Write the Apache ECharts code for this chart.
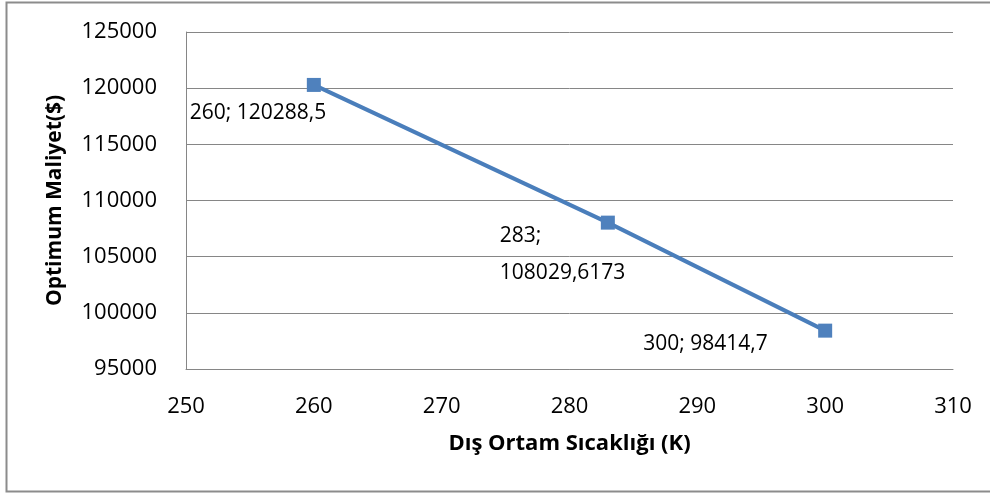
<!DOCTYPE html>
<html><head><meta charset="utf-8">
<script src="https://cdn.jsdelivr.net/npm/echarts@6/dist/echarts.min.js"></script>
<style>html,body{margin:0;padding:0;background:#fff}#c{width:990px;height:494px}</style>
</head><body><div id="c"></div>
<script>
const xValues = [260, 283, 300];
const yValues = [120288.5, 108029.6173, 98414.7];
const pointLabels = ["260; 120288,5", "283;\n108029,6173", "300; 98414,7"];
const xTicks = [250, 260, 270, 280, 290, 300, 310];
const yTicks = [95000, 100000, 105000, 110000, 115000, 120000, 125000];
const xTitle = "Dış Ortam Sıcaklığı (K)";
const yTitle = "Optimum Maliyet($)";

const FONT = "Open Sans";
const labelPos = [[-117, 35], [-101, 39], [-175, 20]];
const chart = echarts.init(document.getElementById('c'), null, {renderer: 'canvas'});
chart.setOption({
  animation: false,
  graphic: [{type: 'rect', shape: {x: 6.5, y: 2.5, width: 1000, height: 489}, style: {fill: 'none', stroke: '#8c8c8c', lineWidth: 2}, silent: true}],
  grid: {left: 186, top: 32, right: 990 - 953, bottom: 494 - 369, containLabel: false},
  xAxis: {
    type: 'value', min: xTicks[0], max: xTicks[xTicks.length - 1], interval: 10,
    name: xTitle, nameLocation: 'middle', nameGap: 64,
    nameTextStyle: {fontFamily: FONT, fontWeight: 'bold', fontSize: 22, color: '#000'},
    axisLine: {show: true, lineStyle: {color: '#868686', width: 1}},
    axisTick: {show: false},
    splitLine: {show: false},
    axisLabel: {fontFamily: FONT, fontSize: 22, color: '#000', margin: 27, formatter: v => String(v)}
  },
  yAxis: {
    type: 'value', min: yTicks[0], max: yTicks[yTicks.length - 1], interval: 5000,
    name: yTitle, nameLocation: 'middle', nameGap: 120, nameRotate: 90,
    nameTextStyle: {fontFamily: FONT, fontWeight: 'bold', fontSize: 21, color: '#000'},
    axisLine: {show: true, lineStyle: {color: '#868686', width: 1}},
    axisTick: {show: false},
    splitLine: {show: true, lineStyle: {color: '#868686', width: 1}},
    axisLabel: {fontFamily: FONT, fontSize: 22, color: '#000', margin: 29, formatter: v => String(v)}
  },
  series: [{
    type: 'line',
    data: xValues.map((x, i) => ({
      value: [x, yValues[i]],
      label: {show: true, formatter: pointLabels[i], position: labelPos[i], align: 'left', verticalAlign: 'middle',
              fontFamily: FONT, fontSize: 21, color: '#000', lineHeight: 37}
    })),
    symbol: 'rect', symbolSize: 14,
    lineStyle: {color: '#4a7ebb', width: 4},
    itemStyle: {color: '#4f81bd', borderWidth: 0},
    z: 3
  }]
});
</script></body></html>
